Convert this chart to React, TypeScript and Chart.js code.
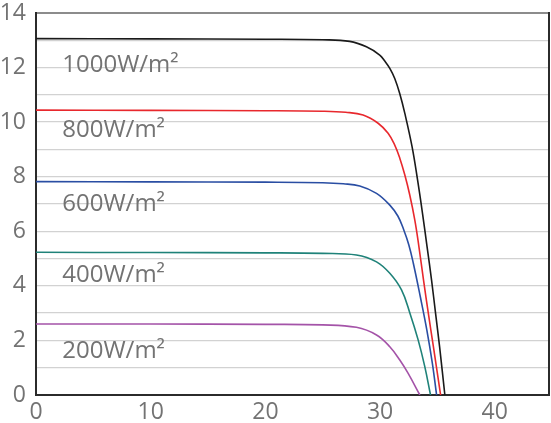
import React, { useEffect, useRef } from "react";
import { Chart, registerables } from "chart.js";

Chart.register(...registerables);

// Curve data (voltage V, current A)
const curve1000V = [0, 10, 20, 25, 27.35, 28.81, 29.97, 30.41, 30.85, 31.28, 31.72, 32.16, 32.79, 33.27, 33.7, 34.1, 34.49, 34.84, 35.19, 35.65];
const curve1000I = [13.06, 13.05, 13.04, 13.02, 12.96, 12.76, 12.46, 12.24, 11.97, 11.6, 11.04, 10.32, 9.1, 7.88, 6.66, 5.43, 4.21, 2.99, 1.77, 0];

const curve800V = [0, 10, 20, 25, 27.0, 28.52, 29.83, 30.7, 31.28, 31.72, 32.16, 32.59, 33.03, 33.38, 33.79, 34.21, 34.65, 35.28];
const curve800I = [10.44, 10.43, 10.42, 10.4, 10.36, 10.26, 9.96, 9.59, 9.16, 8.68, 8.06, 7.33, 6.41, 5.46, 4.21, 2.99, 1.77, 0];

const curve600V = [0, 10, 20, 25, 26.8, 28.23, 29.69, 30.85, 31.55, 32.07, 32.51, 32.9, 33.51, 34.08, 34.56, 34.93];
const curve600I = [7.82, 7.81, 7.8, 7.78, 7.74, 7.66, 7.39, 6.96, 6.56, 6.05, 5.5, 4.83, 3.6, 2.38, 1.16, 0];

const curve400V = [0, 10, 20, 25, 27.94, 29.69, 30.85, 31.87, 32.61, 33.32, 33.9, 34.4];
const curve400I = [5.23, 5.22, 5.21, 5.19, 5.13, 4.88, 4.46, 3.85, 2.99, 2.02, 1.04, 0];

const curve200V = [0, 10, 20, 25, 27.94, 29.69, 30.85, 31.72, 32.45, 33.47];
const curve200I = [2.6, 2.6, 2.59, 2.57, 2.48, 2.2, 1.77, 1.28, 0.79, 0];

const seriesLabels = ["1000W/m²", "800W/m²", "600W/m²", "400W/m²", "200W/m²"];
const seriesColors = ["#1a1a1a", "#e8282d", "#2a4ea3", "#1f8279", "#a453a8"];
// label anchor (x, baseline y) in data units
const labelX = [2.29, 2.29, 2.29, 2.29, 2.29];
const labelY = [11.85, 9.44, 6.75, 4.13, 1.36];

const xTicks = [0, 10, 20, 30, 40];
const xMin = 0;
const xMax = 44.73;
const yMin = 0;
const yMax = 14;

const zip = (xs: number[], ys: number[]) => xs.map((x, i) => ({ x, y: ys[i] }));

export default function App() {
  const ref = useRef<HTMLCanvasElement>(null);

  useEffect(() => {
    document.body.style.margin = "0";
    const canvas = ref.current;
    if (!canvas) return;

    const curves = [
      zip(curve1000V, curve1000I),
      zip(curve800V, curve800I),
      zip(curve600V, curve600I),
      zip(curve400V, curve400I),
      zip(curve200V, curve200I),
    ];

    const labelsPlugin = {
      id: "curveLabels",
      afterDatasetsDraw(chart: any) {
        const { ctx, scales, chartArea } = chart;
        ctx.save();
        // right frame line
        ctx.strokeStyle = "#2b2b2b";
        ctx.lineWidth = 2;
        ctx.beginPath();
        ctx.moveTo(chartArea.right, chartArea.top - 1);
        ctx.lineTo(chartArea.right, chartArea.bottom);
        ctx.stroke();
        ctx.font = "24px 'Open Sans'";
        ctx.fillStyle = "#737373";
        ctx.textAlign = "left";
        ctx.textBaseline = "alphabetic";
        seriesLabels.forEach((t, i) => {
          ctx.fillText(t, scales.x.getPixelForValue(labelX[i]), scales.y.getPixelForValue(labelY[i]));
        });
        ctx.restore();
      },
    };

    const chart = new Chart(canvas, {
      type: "line",
      data: {
        datasets: curves.map((d, i) => ({
          label: seriesLabels[i],
          data: d,
          borderColor: seriesColors[i],
          borderWidth: 1.6,
          pointRadius: 0,
          tension: 0.4,
          fill: false,
        })),
      },
      options: {
        responsive: false,
        animation: false,
        events: [],
        layout: { padding: { top: 13, right: 2, left: 0, bottom: 0 } },
        plugins: { legend: { display: false }, tooltip: { enabled: false } },
        scales: {
          x: {
            type: "linear",
            min: xMin,
            max: xMax,
            afterBuildTicks: (scale: any) => {
              scale.ticks = xTicks.map((v) => ({ value: v }));
            },
            afterFit: (scale: any) => {
              scale.height = 28;
            },
            grid: { display: false, drawTicks: false },
            border: { display: true, color: "#2b2b2b", width: 2 },
            ticks: {
              padding: 4,
              color: "#737373",
              font: { family: "'Open Sans'", size: 23 },
              maxRotation: 0,
              autoSkip: false,
            },
          },
          y: {
            type: "linear",
            min: yMin,
            max: yMax,
            afterFit: (scale: any) => {
              scale.width = 36;
              scale.paddingTop = 0;
              scale.paddingBottom = 0;
            },
            grid: {
              drawTicks: false,
              color: (c: any) => (c.tick && c.tick.value === yMax ? "#8c8c8c" : "#d2d2d2"),
              lineWidth: (c: any) => (c.tick && c.tick.value === yMax ? 2 : 1.3),
            },
            border: { display: true, color: "#2b2b2b", width: 2 },
            ticks: {
              stepSize: 1,
              padding: 10,
              color: "#737373",
              font: { family: "'Open Sans'", size: 23 },
              callback: (v: any) => (Number(v) % 2 === 0 ? String(v) : ""),
              autoSkip: false,
            },
          },
        },
      },
      plugins: [labelsPlugin],
    });

    return () => chart.destroy();
  }, []);

  return (
    <div style={{ width: 551, height: 423, background: "#fff" }}>
      <canvas ref={ref} width={551} height={423} style={{ display: "block" }} />
    </div>
  );
}
